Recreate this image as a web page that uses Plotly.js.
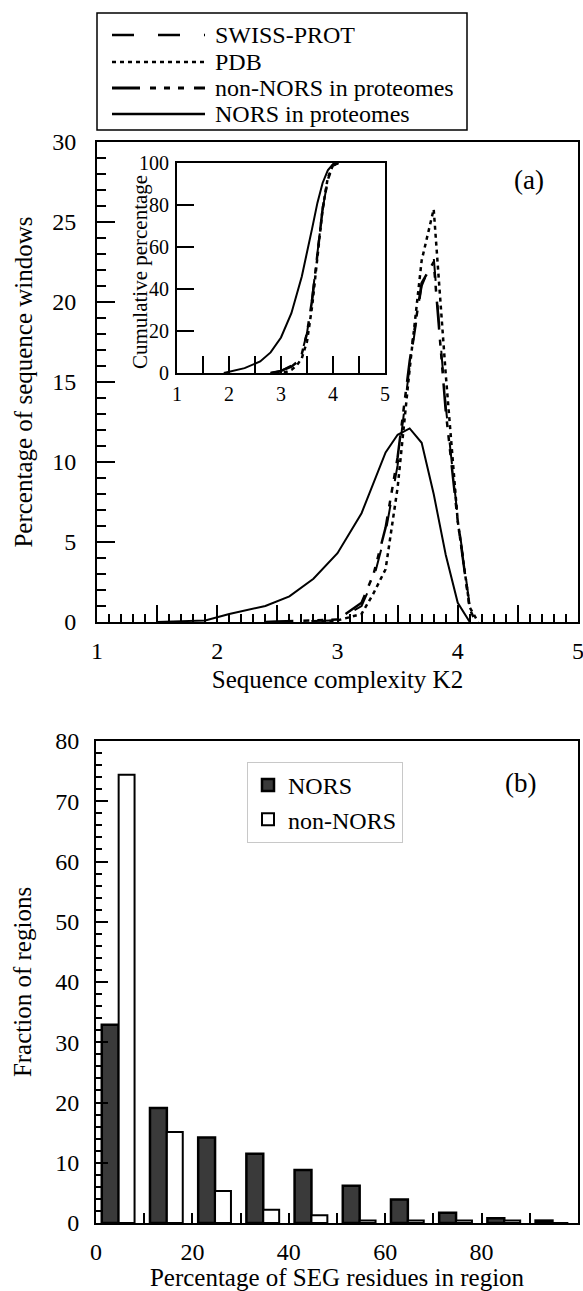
<!DOCTYPE html>
<html>
<head>
<meta charset="utf-8">
<script src="https://cdn.plot.ly/plotly-3.0.1.min.js"></script>
<style>html,body{margin:0;padding:0;background:#fff}</style>
</head>
<body>
<div id="chart" style="width:583px;height:1291px"></div>
<script>
// ---- Panel (a): distributions of sequence complexity K2 ----
const swissK2   = [2.4, 3.0, 3.2, 3.3, 3.4, 3.5, 3.6, 3.7, 3.8, 3.9, 4.0, 4.1, 4.15];
const swissPct  = [0, 0.1, 1.0, 2.7, 5.6, 9.8, 16.0, 21.0, 22.8, 13.5, 6.5, 1.0, 0];
const pdbK2     = [2.8, 3.0, 3.2, 3.3, 3.4, 3.5, 3.6, 3.7, 3.8, 3.9, 4.0, 4.1, 4.17];
const pdbPct    = [0, 0.1, 0.5, 1.8, 3.3, 8.4, 15.8, 22.6, 25.8, 15.5, 6.3, 0.9, 0];
const nonNorsK2 = [2.4, 3.0, 3.2, 3.3, 3.4, 3.5, 3.6, 3.7, 3.8, 3.9, 4.0, 4.1, 4.15];
const nonNorsPct= [0, 0.15, 1.2, 3.0, 5.9, 10.3, 16.3, 21.2, 22.5, 13.2, 6.3, 0.8, 0];
const norsK2    = [1.5, 1.9, 2.1, 2.4, 2.6, 2.8, 3.0, 3.2, 3.4, 3.5, 3.6, 3.7, 3.8, 3.9, 4.0, 4.1];
const norsPct   = [0, 0.1, 0.5, 1.0, 1.6, 2.7, 4.3, 6.8, 10.6, 11.7, 12.1, 11.2, 8.0, 4.2, 1.2, 0];

// inset: cumulative percentage
const swissCumK2   = [2.8, 3.0, 3.2, 3.3, 3.4, 3.5, 3.6, 3.7, 3.8, 3.9, 4.0, 4.1];
const swissCum     = [0, 1, 3.5, 5.5, 9.5, 19, 36, 57, 78, 92, 98.5, 100];
const pdbCumK2     = [2.9, 3.1, 3.2, 3.3, 3.4, 3.5, 3.6, 3.7, 3.8, 3.9, 4.0, 4.1];
const pdbCum       = [0, 0.5, 1.5, 3.5, 7, 15, 32, 55, 78, 93, 99, 100];
const nonNorsCumK2 = [2.8, 3.0, 3.2, 3.3, 3.4, 3.5, 3.6, 3.7, 3.8, 3.9, 4.0, 4.1];
const nonNorsCum   = [0, 1, 3, 5, 9, 19, 35, 57, 78, 92, 99, 100];
const norsCumK2    = [1.9, 2.0, 2.3, 2.6, 2.8, 3.0, 3.2, 3.4, 3.5, 3.6, 3.7, 3.8, 3.9, 4.0, 4.05];
const norsCum      = [0, 0.5, 2.3, 5.5, 9.8, 16.9, 28.5, 46, 57, 69, 81, 90.5, 96.5, 99.5, 100];

const seriesNames = ["SWISS-PROT", "PDB", "non-NORS in proteomes", "NORS in proteomes"];

// ---- Panel (b): SEG residues ----
const segBins   = [5, 15, 25, 35, 45, 55, 65, 75, 85, 95];
const norsFrac  = [32.9, 19.1, 14.2, 11.5, 8.8, 6.2, 3.9, 1.7, 0.8, 0.4];
const nonNorsFrac = [74.4, 15.1, 5.3, 2.2, 1.3, 0.4, 0.4, 0.4, 0.4, 0];

const FONT = "Liberation Serif";
const dashes = {
  swiss: "22px,24px",
  pdb: "4px,4px",
  nonNors: "28px,10px,6px,8px,6px,8px,6px,10px",
  nors: "solid"
};

function line(x, y, dash, w, xa, ya) {
  return {x: x, y: y, type: "scatter", mode: "lines", xaxis: xa, yaxis: ya,
    line: {color: "black", width: w, dash: dash}, showlegend: false, hoverinfo: "skip"};
}

const traces = [
  line(swissK2, swissPct, dashes.swiss, 2, "x", "y"),
  line(pdbK2, pdbPct, dashes.pdb, 2.5, "x", "y"),
  line(nonNorsK2, nonNorsPct, dashes.nonNors, 2.5, "x", "y"),
  line(norsK2, norsPct, dashes.nors, 2, "x", "y"),
  line(swissCumK2, swissCum, dashes.swiss, 2, "x2", "y2"),
  line(pdbCumK2, pdbCum, dashes.pdb, 2.5, "x2", "y2"),
  line(nonNorsCumK2, nonNorsCum, dashes.nonNors, 2.5, "x2", "y2"),
  line(norsCumK2, norsCum, dashes.nors, 2, "x2", "y2"),
  {x: segBins, y: norsFrac, type: "bar", name: "NORS", xaxis: "x3", yaxis: "y3",
   offset: -3.8, width: 3.5,
   marker: {color: "#3a3a3a", line: {color: "black", width: 2.5}}},
  {x: segBins, y: nonNorsFrac, type: "bar", name: "non-NORS", xaxis: "x3", yaxis: "y3",
   offset: -0.3, width: 3.3,
   marker: {color: "white", line: {color: "black", width: 2}}}
];

const W = 583, H = 1291;
const px = v => v / W;
const py = v => 1 - v / H;

const axBase = {showline: true, linecolor: "black", linewidth: 2, mirror: true,
  ticks: "inside", tickcolor: "black", tickwidth: 2, showgrid: false, zeroline: false,
  fixedrange: true, ticklabeloverflow: "allow",
  tickfont: {family: FONT, size: 24, color: "black"}};

const layout = {
  width: W, height: H,
  margin: {l: 0, r: 0, t: 0, b: 0, autoexpand: false},
  paper_bgcolor: "white", plot_bgcolor: "white",
  font: {family: FONT, color: "black"},
  showlegend: true,
  barmode: "overlay",
  xaxis: Object.assign({}, axBase, {domain: [px(97), px(578)], anchor: "y", range: [1, 5],
    tick0: 1, dtick: 0.5, ticklabelstep: 2, ticklen: 17, ticklabelstandoff: 6,
    minor: {dtick: 0.1, ticklen: 8, tickwidth: 2, tickcolor: "black", ticks: "inside"},
    title: {text: "Sequence complexity K2", font: {family: FONT, size: 25}, standoff: 8}}),
  yaxis: Object.assign({}, axBase, {domain: [py(622), py(142)], anchor: "x", range: [0, 30],
    dtick: 5, ticklen: 18, ticklabelstandoff: 14,
    minor: {dtick: 1, ticklen: 9, tickwidth: 2, tickcolor: "black", ticks: "inside"},
    title: {text: "Percentage of sequence windows", font: {family: FONT, size: 25}, standoff: 12}}),
  xaxis2: Object.assign({}, axBase, {domain: [px(177), px(385)], anchor: "y2", range: [1, 5],
    tick0: 1, dtick: 0.5, ticklabelstep: 2, ticklen: 17, ticklabelstandoff: 2,
    tickfont: {family: FONT, size: 20, color: "black"}}),
  yaxis2: Object.assign({}, axBase, {domain: [py(373), py(163)], anchor: "x2", range: [0, 100],
    dtick: 20, ticklen: 17, ticklabelstandoff: 2,
    tickfont: {family: FONT, size: 20, color: "black"}}),
  xaxis3: Object.assign({}, axBase, {domain: [px(96), px(578)], anchor: "y3", range: [0, 100],
    tick0: 0, dtick: 10, ticklabelstep: 2, ticklen: 10, ticklabelstandoff: 6,
    ticklabeloverflow: "hide past div",
    title: {text: "Percentage of SEG residues in region", font: {family: FONT, size: 25}, standoff: 8}}),
  yaxis3: Object.assign({}, axBase, {domain: [py(1223), py(741)], anchor: "x3", range: [0, 80],
    dtick: 10, ticklen: 12, ticklabelstandoff: 10,
    minor: {dtick: 2, ticklen: 6, tickwidth: 2, tickcolor: "black", ticks: "inside"},
    title: {text: "Fraction of regions", font: {family: FONT, size: 25}, standoff: 16}}),
  legend: {x: px(247), y: py(762), xanchor: "left", yanchor: "top",
    bgcolor: "white", bordercolor: "#c8c8c8", borderwidth: 1,
    font: {family: FONT, size: 24, color: "black"}, tracegroupgap: 0},
  annotations: [
    {text: "(a)", x: px(529), y: py(180), xref: "paper", yref: "paper", showarrow: false,
     xanchor: "center", yanchor: "middle", font: {family: FONT, size: 27}},
    {text: "(b)", x: px(520), y: py(783), xref: "paper", yref: "paper", showarrow: false,
     xanchor: "center", yanchor: "middle", font: {family: FONT, size: 27}},
    {text: "Cumulative percentage", x: px(140), y: py(272), xref: "paper", yref: "paper",
     xanchor: "center", yanchor: "middle",
     showarrow: false, textangle: -90, font: {family: FONT, size: 21}}
  ],
  shapes: [
    {type: "rect", xref: "paper", yref: "paper", x0: px(97), x1: px(467), y0: py(130), y1: py(13),
     line: {color: "black", width: 1.5}, fillcolor: "white", layer: "above"}
  ]
};

const legendY = [35, 62, 88, 114];
const legendDash = [dashes.swiss, dashes.pdb, dashes.nonNors, dashes.nors];
const legendW = [2.5, 2.5, 3, 2.5];
seriesNames.forEach((name, i) => {
  layout.shapes.push({type: "line", xref: "paper", yref: "paper",
    x0: px(112), x1: px(205), y0: py(legendY[i]), y1: py(legendY[i]),
    line: {color: "black", width: legendW[i], dash: legendDash[i]}, layer: "above"});
  layout.annotations.push({text: name, x: px(213), y: py(legendY[i]), xref: "paper", yref: "paper",
    xanchor: "left", yanchor: "middle", showarrow: false, font: {family: FONT, size: 24}});
});

Plotly.newPlot("chart", traces, layout, {staticPlot: true, displayModeBar: false});
</script>
</body>
</html>
